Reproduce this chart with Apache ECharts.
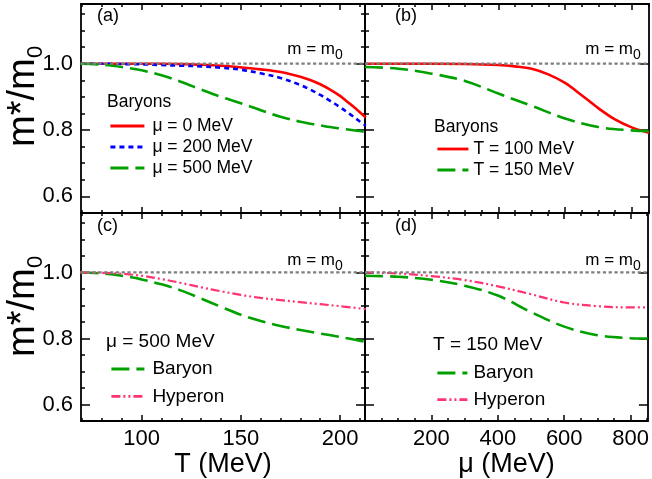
<!DOCTYPE html>
<html>
<head>
<meta charset="utf-8">
<title>m*/m0</title>
<script src="https://cdn.jsdelivr.net/npm/echarts@6/dist/echarts.min.js"></script>
<style>
  html, body { margin: 0; padding: 0; background: #fff; }
  #main { width: 652px; height: 479px; }
</style>
</head>
<body>
<div id="main"></div>
<script>
// axis ranges and ticks
const tRange = [69.4, 212.6];
const muRange = [0, 852];
const yRange = [0.55, 1.18];
const tMajor = [100, 150, 200];
const tMinor = [70, 80, 90, 110, 120, 130, 140, 160, 170, 180, 190, 210];
const muMajor = [200, 400, 600, 800];
const muMinor = [50, 100, 150, 250, 300, 350, 450, 500, 550, 650, 700, 750, 850];
const yMajor = [0.6, 0.8, 1.0];
const yMinor = [0.65, 0.7, 0.75, 0.85, 0.9, 0.95, 1.05, 1.1, 1.15];
const refMass = 1.0;

// (a) baryons, m*/m0 vs T
const tA = [69, 80, 90, 100, 110, 120, 130, 140, 150, 160, 170, 180, 185, 190, 195, 200, 205, 210, 213];
const mu0A = [1.0, 1.0, 1.0, 1.0, 1.0, 0.999, 0.997, 0.994, 0.989, 0.983, 0.975, 0.961, 0.951, 0.938, 0.922, 0.903, 0.879, 0.854, 0.838];
const mu200A = [1.0, 1.0, 0.999, 0.998, 0.996, 0.994, 0.992, 0.988, 0.982, 0.971, 0.957, 0.936, 0.922, 0.906, 0.888, 0.869, 0.848, 0.826, 0.813];
const mu500A = [1.0, 0.997, 0.99, 0.98, 0.965, 0.945, 0.922, 0.9, 0.881, 0.86, 0.84, 0.825, 0.819, 0.814, 0.809, 0.805, 0.801, 0.797, 0.794];

// (b) baryons, m*/m0 vs mu
const muB = [0, 100, 200, 300, 400, 450, 500, 550, 600, 650, 700, 750, 800, 852];
const t100B = [1.0, 1.0, 1.0, 0.999, 0.996, 0.992, 0.985, 0.968, 0.942, 0.905, 0.866, 0.832, 0.808, 0.792];
const muB2 = [0, 100, 200, 300, 400, 500, 600, 700, 800, 852];
const t150B = [0.99, 0.985, 0.97, 0.948, 0.91, 0.873, 0.835, 0.809, 0.799, 0.797];

// (c) mu = 500 MeV, vs T
const tC = [69, 80, 90, 100, 110, 120, 130, 140, 150, 160, 170, 180, 190, 200, 213];
const baryonC = [1.0, 0.997, 0.99, 0.979, 0.964, 0.945, 0.921, 0.896, 0.872, 0.853, 0.838, 0.826, 0.815, 0.805, 0.79];
const hyperonC = [1.0, 0.999, 0.996, 0.99, 0.98, 0.968, 0.955, 0.943, 0.932, 0.923, 0.916, 0.91, 0.904, 0.898, 0.889];

// (d) T = 150 MeV, vs mu
const muD = [0, 100, 200, 300, 400, 500, 600, 700, 800, 852];
const baryonD = [0.99, 0.987, 0.978, 0.96, 0.93, 0.88, 0.836, 0.81, 0.801, 0.8];
const hyperonD = [1.0, 0.997, 0.989, 0.977, 0.958, 0.934, 0.909, 0.898, 0.894, 0.894];

const FONT = 'Liberation Sans, Arial, Helvetica, sans-serif';
const RED = '#ff0000', BLUE = '#0000ff', GREEN = '#00a000', PINK = '#ff3370', GRAY = '#7f7f7f';
const DASH_SHORT = [5, 4], DASH_LONG = [18, 7], DASH_DOTDOT = [9, 3, 2, 3, 2, 3];

const grids = [
  { left: 81, top: 4, width: 284, height: 209 },
  { left: 365, top: 4, width: 284, height: 209 },
  { left: 81, top: 213, width: 284, height: 210 },
  { left: 365, top: 213, width: 284, height: 210 },
];

const xAxes = [];
const yAxes = [];
const axisLine = { show: true, onZero: false, lineStyle: { color: '#000', width: 1.8 } };

// 4 x axes per grid: bottom major, bottom minor, top major, top minor
function addX(g, range, major, minor, showLabels, name) {
  ['bottom', 'top'].forEach(function (pos) {
    xAxes.push({
      type: 'value', gridIndex: g, position: pos, min: range[0], max: range[1],
      splitLine: { show: false }, axisLine: axisLine,
      axisTick: { show: true, inside: true, length: 6, customValues: major, lineStyle: { color: '#000', width: 1.5 } },
      axisLabel: (pos === 'bottom' && showLabels)
        ? { show: true, customValues: major, fontSize: 22, color: '#000', margin: 7, fontFamily: FONT }
        : { show: false },
      name: (pos === 'bottom' && name) ? name : '',
      nameLocation: 'middle', nameGap: 17,
      nameTextStyle: { fontSize: 27, color: '#000', fontFamily: FONT },
    });
    xAxes.push({
      type: 'value', gridIndex: g, position: pos, min: range[0], max: range[1],
      splitLine: { show: false }, axisLine: { show: false },
      axisTick: { show: true, inside: true, length: 3, customValues: minor, lineStyle: { color: '#000', width: 1.5 } },
      axisLabel: { show: false },
    });
  });
}

// 4 y axes per grid: left major, left minor, right major, right minor
function addY(g, showLabels) {
  ['left', 'right'].forEach(function (pos) {
    yAxes.push({
      type: 'value', gridIndex: g, position: pos, min: yRange[0], max: yRange[1],
      splitLine: { show: false }, axisLine: axisLine,
      axisTick: { show: true, inside: true, length: 9, customValues: yMajor, lineStyle: { color: '#000', width: 1.5 } },
      axisLabel: (pos === 'left' && showLabels)
        ? { show: true, customValues: yMajor, fontSize: 22, color: '#000', margin: 8, fontFamily: FONT,
            formatter: function (v) { return v.toFixed(1); } }
        : { show: false },
    });
    yAxes.push({
      type: 'value', gridIndex: g, position: pos, min: yRange[0], max: yRange[1],
      splitLine: { show: false }, axisLine: { show: false },
      axisTick: { show: true, inside: true, length: 4, customValues: yMinor, lineStyle: { color: '#000', width: 1.5 } },
      axisLabel: { show: false },
    });
  });
}

addX(0, tRange, tMajor, tMinor, false);
addX(1, muRange, muMajor, muMinor, false);
addX(2, tRange, tMajor, tMinor, true, 'T (MeV)');
addX(3, muRange, muMajor, muMinor, true, 'μ (MeV)');
addY(0, true);
addY(1, false);
addY(2, true);
addY(3, false);

function zip(xs, ys) {
  return xs.map(function (x, i) { return [x, ys[i]]; });
}

function curve(name, g, xs, ys, color, type, width) {
  return {
    name: name, type: 'line', xAxisIndex: 4 * g, yAxisIndex: 4 * g,
    data: zip(xs, ys), symbol: 'none', showSymbol: false,
    smooth: 0.35, silent: true, z: 3,
    lineStyle: { color: color, type: type, width: width },
    itemStyle: { color: color },
  };
}

// dotted m = m0 line
function refLine(g, range) {
  return {
    name: 'm = m0', type: 'line', xAxisIndex: 4 * g, yAxisIndex: 4 * g,
    data: [[range[0], refMass], [range[1], refMass]], symbol: 'none', silent: true, z: 4,
    lineStyle: { color: GRAY, type: [3.3, 2.5], width: 2.2 },
  };
}

const series = [
  curve('μ = 0 MeV', 0, tA, mu0A, RED, 'solid', 2.6),
  curve('μ = 200 MeV', 0, tA, mu200A, BLUE, DASH_SHORT, 2.6),
  curve('μ = 500 MeV', 0, tA, mu500A, GREEN, DASH_LONG, 2.6),
  refLine(0, tRange),
  curve('T = 100 MeV', 1, muB, t100B, RED, 'solid', 2.6),
  curve('T = 150 MeV', 1, muB2, t150B, GREEN, DASH_LONG, 2.6),
  refLine(1, muRange),
  curve('Baryon', 2, tC, baryonC, GREEN, DASH_LONG, 2.6),
  curve('Hyperon', 2, tC, hyperonC, PINK, DASH_DOTDOT, 2.2),
  refLine(2, tRange),
  curve('Baryon', 3, muD, baryonD, GREEN, DASH_LONG, 2.6),
  curve('Hyperon', 3, muD, hyperonD, PINK, DASH_DOTDOT, 2.2),
  refLine(3, muRange),
];

function legend(names, left, top, itemWidth, gap, fontSize, textPad) {
  return {
    data: names, orient: 'vertical', left: left, top: top, padding: 0,
    itemWidth: itemWidth, itemHeight: 14, itemGap: gap, selectedMode: false,
    itemStyle: { opacity: 0 },
    lineStyle: { width: 2.8 },
    textStyle: { fontSize: fontSize, lineHeight: 20, color: '#000', fontFamily: FONT, padding: [0, 0, 0, textPad] },
  };
}

function text(x, y, str, fs, align, rot) {
  return {
    type: 'text', x: x, y: y, rotation: rot || 0, silent: true, z: 10,
    style: {
      text: str, fontSize: fs, fontFamily: FONT, fill: '#000',
      align: align, textAlign: align, verticalAlign: 'middle', textVerticalAlign: 'middle',
    },
  };
}

const graphics = [
  // panel letters
  text(97, 16, '(a)', 18, 'left'),
  text(395, 16, '(b)', 18, 'left'),
  text(97, 226, '(c)', 18, 'left'),
  text(395, 226, '(d)', 18, 'left'),
  // m = m0 labels
  text(335, 49, 'm = m', 17, 'right'), text(335, 55, '0', 14, 'left'),
  text(633, 49, 'm = m', 17, 'right'), text(633, 55, '0', 14, 'left'),
  text(335, 260, 'm = m', 17, 'right'), text(335, 266, '0', 14, 'left'),
  text(633, 260, 'm = m', 17, 'right'), text(633, 266, '0', 14, 'left'),
  // legend headings
  text(107, 102, 'Baryons', 17.5, 'left'),
  text(434, 127, 'Baryons', 17.5, 'left'),
  text(106, 342, 'μ = 500 MeV', 19, 'left'),
  text(433, 345, 'T = 150 MeV', 19, 'left'),
  // y axis titles
  text(24, 147, 'm*/m', 38, 'left', Math.PI / 2), text(36, 58, '0', 22, 'left', Math.PI / 2),
  text(24, 357, 'm*/m', 38, 'left', Math.PI / 2), text(36, 268, '0', 22, 'left', Math.PI / 2),
];

const chart = echarts.init(document.getElementById('main'));
chart.setOption({
  animation: false,
  backgroundColor: '#fff',
  grid: grids,
  xAxis: xAxes,
  yAxis: yAxes,
  legend: [
    legend(['μ = 0 MeV', 'μ = 200 MeV', 'μ = 500 MeV'], 109, 116, 34, 1, 17.5, 3),
    legend(['T = 100 MeV', 'T = 150 MeV'], 436, 139, 31, 1, 17.5, 0),
    legend(['Baryon', 'Hyperon'], 110, 359, 33, 7.4, 19, 3),
    legend(['Baryon', 'Hyperon'], 436, 363, 30, 6.6, 19, 1),
  ],
  graphic: graphics,
  series: series,
});
</script>
</body>
</html>
